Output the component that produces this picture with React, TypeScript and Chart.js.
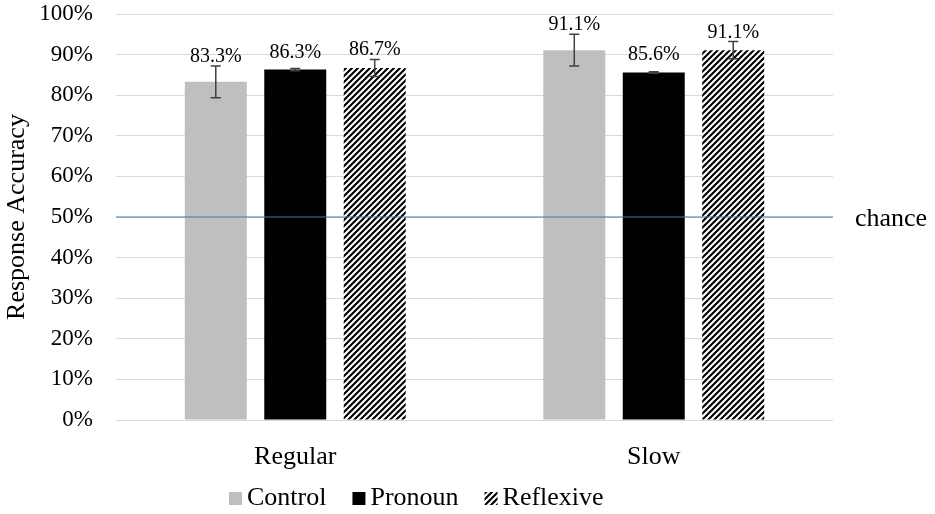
import { useEffect, useRef } from 'react'
import { Chart, registerables } from 'chart.js'

Chart.register(...registerables)

const categories = ['Regular', 'Slow']
const seriesNames = ['Control', 'Pronoun', 'Reflexive']
const controlValues = [83.3, 91.1]
const pronounValues = [86.3, 85.6]
const reflexiveValues = [86.7, 91.1]
const controlErrors = [3.9, 3.9]
const pronounErrors = [0.3, 0.2]
const reflexiveErrors = [2.1, 2.1]
const yTicks = [0, 10, 20, 30, 40, 50, 60, 70, 80, 90, 100]
const CHANCE = 50
const CHANCE_LABEL = 'chance'
const Y_TITLE = 'Response Accuracy'

const FONT = "'Liberation Serif', 'Times New Roman', serif"

function makeHatch(): CanvasPattern | string {
  const c = document.createElement('canvas')
  c.width = 6
  c.height = 6
  const g = c.getContext('2d')
  if (!g) return '#000'
  g.fillStyle = '#fff'
  g.fillRect(0, 0, 6, 6)
  g.strokeStyle = '#000'
  g.lineWidth = 2.1
  g.beginPath()
  g.moveTo(-1, 7)
  g.lineTo(7, -1)
  g.moveTo(-1, 1)
  g.lineTo(1, -1)
  g.moveTo(5, 7)
  g.lineTo(7, 5)
  g.stroke()
  return g.createPattern(c, 'repeat') ?? '#000'
}

export default function App() {
  const canvasRef = useRef<HTMLCanvasElement>(null)

  useEffect(() => {
    if (!canvasRef.current) return
    const hatch = makeHatch()
    const fills = ['#BFBFBF', '#000000', hatch]
    const values = [controlValues, pronounValues, reflexiveValues]
    const errors = [controlErrors, pronounErrors, reflexiveErrors]

    const extras = {
      id: 'extras',
      afterDatasetsDraw(chart: Chart) {
        const { ctx, chartArea } = chart
        const y = chart.scales.y
        // chance line
        const cy = y.getPixelForValue(CHANCE)
        ctx.save()
        ctx.strokeStyle = '#4472C4'
        ctx.lineWidth = 1.2
        ctx.beginPath()
        ctx.moveTo(chartArea.left, cy)
        ctx.lineTo(chartArea.right, cy)
        ctx.stroke()
        ctx.fillStyle = '#000'
        ctx.font = `26px ${FONT}`
        ctx.textBaseline = 'middle'
        ctx.textAlign = 'left'
        ctx.fillText(CHANCE_LABEL, chartArea.right + 22, cy + 2)

        // error bars and value labels
        values.forEach((vals, i) => {
          const meta = chart.getDatasetMeta(i)
          meta.data.forEach((el: any, j) => {
            const v = vals[j]
            const e = errors[i][j]
            const top = y.getPixelForValue(v + e)
            const bot = y.getPixelForValue(v - e)
            ctx.strokeStyle = '#404040'
            ctx.lineWidth = 1.5
            ctx.beginPath()
            ctx.moveTo(el.x, top)
            ctx.lineTo(el.x, bot)
            ctx.moveTo(el.x - 5, top)
            ctx.lineTo(el.x + 5, top)
            ctx.moveTo(el.x - 5, bot)
            ctx.lineTo(el.x + 5, bot)
            ctx.stroke()
            const barTop = y.getPixelForValue(v)
            const base = Math.min(top - 4, barTop - 12)
            ctx.fillStyle = '#000'
            ctx.font = `20px ${FONT}`
            ctx.textAlign = 'center'
            ctx.textBaseline = 'alphabetic'
            ctx.fillText(`${v.toFixed(1)}%`, el.x, base)
          })
        })

        // legend
        ctx.font = `26px ${FONT}`
        ctx.textBaseline = 'middle'
        ctx.textAlign = 'left'
        let lx = 229
        const ly = 498
        seriesNames.forEach((name, i) => {
          ctx.fillStyle = fills[i] as any
          ctx.fillRect(lx, ly - 6, 13, 13)
          ctx.fillStyle = '#000'
          ctx.fillText(name, lx + 18, ly)
          lx += 18 + ctx.measureText(name).width + 26
        })
        ctx.restore()
      },
    }

    const chart = new Chart(canvasRef.current, {
      type: 'bar',
      data: {
        labels: categories,
        datasets: seriesNames.map((name, i) => ({
          label: name,
          data: values[i],
          backgroundColor: fills[i] as any,
          borderWidth: 0,
          categoryPercentage: 0.665,
          barPercentage: 0.78,
        })),
      },
      options: {
        animation: false,
        responsive: false,
        devicePixelRatio: 1,
        events: [],
        layout: { padding: { left: 0, top: 0, right: 102, bottom: 0 } },
        plugins: {
          legend: { display: false },
          tooltip: { enabled: false },
        },
        scales: {
          x: {
            grid: { display: false },
            border: { display: false },
            ticks: {
              color: '#000',
              font: { family: FONT, size: 26 },
              padding: 14,
            },
            afterFit: (s: any) => {
              s.height = 94
            },
          },
          y: {
            min: 0,
            max: 100,
            afterBuildTicks: (s: any) => {
              s.ticks = yTicks.map((v) => ({ value: v }))
            },
            ticks: {
              color: '#000',
              font: { family: FONT, size: 23 },
              padding: 23,
              callback: (v: any) => `${v}%`,
            },
            grid: { color: '#D9D9D9', lineWidth: 1, drawTicks: false },
            border: { display: false },
            title: {
              display: true,
              text: Y_TITLE,
              color: '#000',
              font: { family: FONT, size: 26 },
              padding: { top: 2, bottom: 0 },
            },
            afterFit: (s: any) => {
              s.width = 116
              s.paddingTop = 14
              s.paddingBottom = 0
            },
          },
        },
      },
      plugins: [extras],
    })
    return () => chart.destroy()
  }, [])

  return (
    <div style={{ position: 'fixed', left: 0, top: 0, width: 935, height: 514, background: '#fff' }}>
      <canvas ref={canvasRef} width={935} height={514} />
    </div>
  )
}
